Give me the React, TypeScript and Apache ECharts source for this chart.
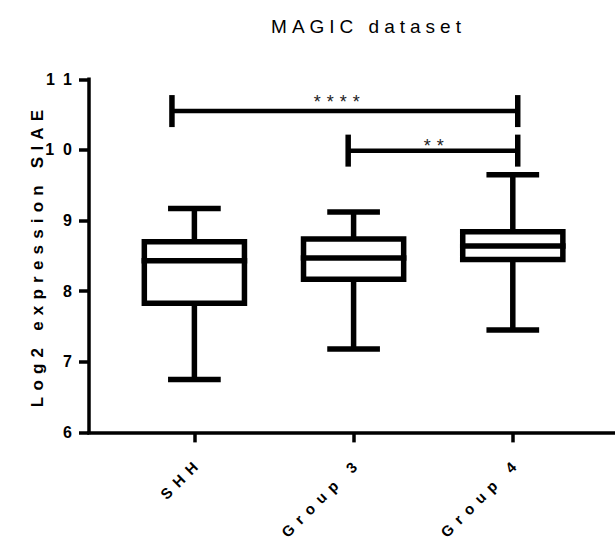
import React, { useEffect, useRef } from 'react';
import * as echarts from 'echarts';

// ---- data ----
const chartTitle = 'MAGIC dataset';
const yAxisName = 'Log2 expression SIAE';
const categories = ['SHH', 'Group 3', 'Group 4'];
const categoryPositions = [1, 2, 3];
const whiskerLow = [6.75, 7.18, 7.45];
const q1 = [7.83, 8.17, 8.45];
const median = [8.43, 8.47, 8.64];
const q3 = [8.7, 8.74, 8.84];
const whiskerHigh = [9.17, 9.12, 9.65];
const yMin = 6;
const yMax = 11;

const sigLabels = ['****', '**'];
const sigFrom = [0.859, 1.966];
const sigTo = [3.031, 3.031];
const sigY = [10.55, 9.99];
const sigLabelX = [1.894, 2.503];
const sigLabelY = [10.674, 10.059];

// ---- styles ----
const FONT = "'Liberation Sans', Arial, Helvetica, sans-serif";
const LS_TITLE = 5;
const LS_YNAME = 6.2;
const LS_XLABEL = 7;
const LS_YLABEL = 9;
const LS_STARS = 6;

export default function App() {
  const ref = useRef<HTMLDivElement>(null);

  useEffect(() => {
    document.body.style.margin = '0';
    const el = ref.current!;
    const chart = echarts.init(el, undefined, { renderer: 'svg' });

    const spacing = new Map<string, number>();
    spacing.set(chartTitle, LS_TITLE);
    spacing.set(yAxisName, LS_YNAME);
    categories.forEach((c) => spacing.set(c, LS_XLABEL));
    for (let v = yMin; v <= yMax; v++) spacing.set(String(v), LS_YLABEL);
    sigLabels.forEach((s) => spacing.set(s, LS_STARS));

    const boxData = categoryPositions.map((x, i) => [x, whiskerLow[i], q1[i], median[i], q3[i], whiskerHigh[i]]);
    const sigData = sigLabels.map((_, i) => [sigFrom[i], sigTo[i], sigY[i], sigLabelX[i], sigLabelY[i]]);

    const lw = 5.5;

    const option: any = {
      animation: false,
      grid: { left: 89, right: 0, top: 79.3, bottom: 123.6, containLabel: false, outerBoundsMode: 'none' },
      graphic: [
        {
          type: 'text',
          x: 366 + LS_TITLE / 2,
          y: 26,
          style: { text: chartTitle, fontSize: 19, fontFamily: FONT, fill: '#000', align: 'center', verticalAlign: 'middle' },
        },
        {
          type: 'text',
          x: 37,
          y: 258.5 - LS_YNAME / 2,
          rotation: Math.PI / 2,
          style: { text: yAxisName, fontSize: 17, fontWeight: 'bold', fontFamily: FONT, fill: '#000', align: 'center', verticalAlign: 'middle' },
        },
      ],
      xAxis: {
        type: 'value',
        min: 0.338,
        max: 3.642,
        splitLine: { show: false },
        axisLine: { show: true, onZero: false, lineStyle: { color: '#000', width: 3.5, cap: 'square' } },
        axisTick: { show: true, customValues: categoryPositions, length: 10, lineStyle: { color: '#000', width: 3.5 } },
        axisLabel: {
          show: true,
          customValues: categoryPositions.map((v) => v + 0.035),
          rotate: 45,
          margin: 27,
          fontSize: 15,
          fontWeight: 'bold',
          fontFamily: FONT,
          color: '#000',
          formatter: (v: number) => categories[Math.round(v) - 1] ?? '',
        },
      },
      yAxis: {
        type: 'value',
        min: yMin,
        max: yMax,
        interval: 1,
        splitLine: { show: false },
        axisLine: { show: true, onZero: false, lineStyle: { color: '#000', width: 3.5, cap: 'square' } },
        axisTick: { show: true, length: 10, lineStyle: { color: '#000', width: 3.5 } },
        axisLabel: { show: true, margin: 8, fontSize: 16, fontWeight: 'bold', fontFamily: FONT, color: '#000' },
      },
      series: [
        {
          type: 'custom',
          name: 'boxes',
          data: boxData,
          encode: { x: 0, y: [1, 2, 3, 4, 5] },
          clip: false,
          renderItem: (params: any, api: any) => {
            const x = api.value(0);
            const lo = api.coord([x, api.value(1)]);
            const b1 = api.coord([x, api.value(2)]);
            const md = api.coord([x, api.value(3)]);
            const b3 = api.coord([x, api.value(4)]);
            const hi = api.coord([x, api.value(5)]);
            const boxW = api.size([0.629, 0])[0];
            const capW = api.size([0.331, 0])[0];
            const cx = lo[0];
            const st = { stroke: '#000', lineWidth: lw, fill: 'none' };
            return {
              type: 'group',
              children: [
                { type: 'line', shape: { x1: cx, y1: b3[1], x2: cx, y2: hi[1] }, style: st },
                { type: 'line', shape: { x1: cx, y1: b1[1], x2: cx, y2: lo[1] }, style: st },
                { type: 'line', shape: { x1: cx - capW / 2, y1: hi[1], x2: cx + capW / 2, y2: hi[1] }, style: st },
                { type: 'line', shape: { x1: cx - capW / 2, y1: lo[1], x2: cx + capW / 2, y2: lo[1] }, style: st },
                {
                  type: 'rect',
                  shape: { x: cx - boxW / 2, y: b3[1], width: boxW, height: b1[1] - b3[1] },
                  style: { stroke: '#000', lineWidth: lw, fill: '#fff' },
                },
                {
                  type: 'line',
                  shape: { x1: cx - boxW / 2 - lw / 2, y1: md[1], x2: cx + boxW / 2 + lw / 2, y2: md[1] },
                  style: st,
                },
              ],
            };
          },
        },
        {
          type: 'custom',
          name: 'significance',
          data: sigData,
          encode: { x: [0, 1, 3], y: [2, 4] },
          clip: false,
          renderItem: (params: any, api: any) => {
            const a = api.coord([api.value(0), api.value(2)]);
            const b = api.coord([api.value(1), api.value(2)]);
            const lab = api.coord([api.value(3), api.value(4)]);
            const h = 16;
            return {
              type: 'group',
              children: [
                { type: 'line', shape: { x1: a[0], y1: a[1], x2: b[0], y2: b[1] }, style: { stroke: '#000', lineWidth: 4.5 } },
                { type: 'line', shape: { x1: a[0], y1: a[1] - h, x2: a[0], y2: a[1] + h }, style: { stroke: '#000', lineWidth: lw } },
                { type: 'line', shape: { x1: b[0], y1: b[1] - h, x2: b[0], y2: b[1] + h }, style: { stroke: '#000', lineWidth: lw } },
                {
                  type: 'text',
                  x: lab[0] + LS_STARS / 2,
                  y: lab[1],
                  style: {
                    text: sigLabels[params.dataIndex],
                    fontSize: 18,
                    fontFamily: FONT,
                    fill: '#222',
                    align: 'center',
                    verticalAlign: 'middle',
                  },
                },
              ],
            };
          },
        },
      ],
    };

    const applySpacing = () => {
      el.querySelectorAll('text').forEach((t) => {
        const s = spacing.get((t.textContent || '').trim());
        if (s != null) (t as SVGTextElement).style.letterSpacing = s + 'px';
      });
    };

    chart.setOption(option);
    applySpacing();
    chart.on('finished', applySpacing);

    return () => {
      chart.dispose();
    };
  }, []);

  return <div ref={ref} style={{ width: 615, height: 556, overflow: 'hidden' }} />;
}
